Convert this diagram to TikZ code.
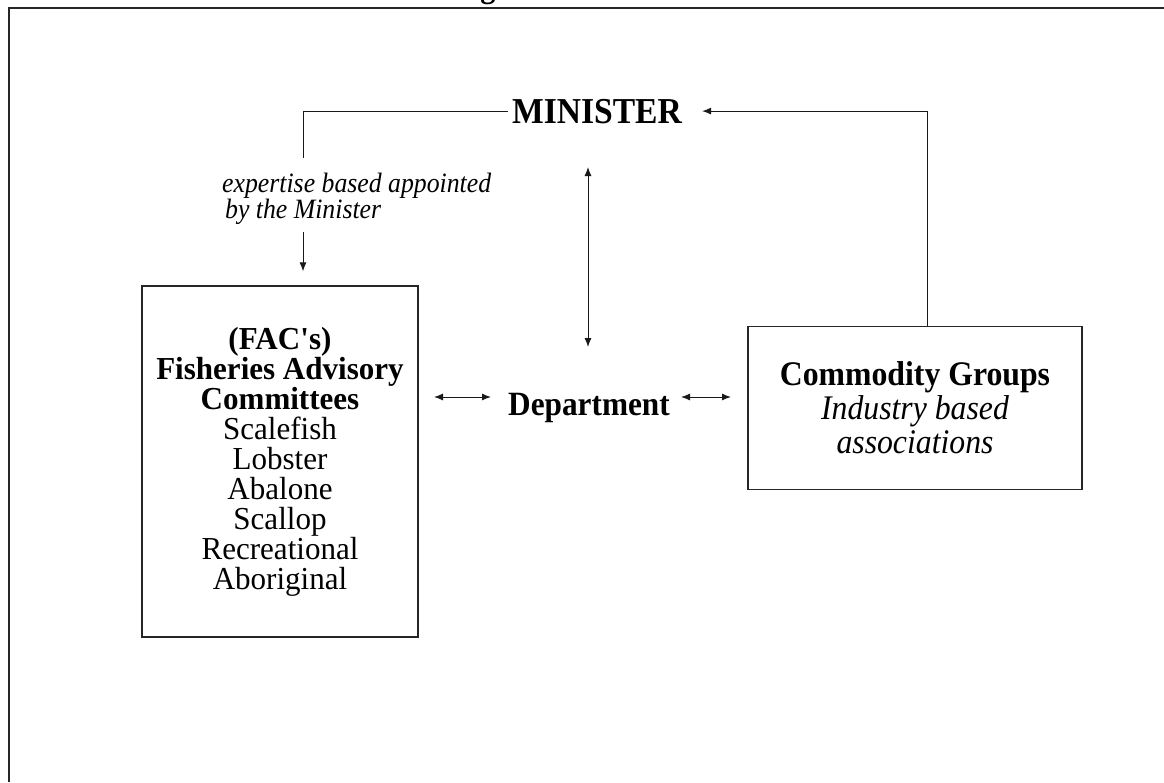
\documentclass[tikz,border=0pt]{standalone}
\usepackage{fontspec}
\setmainfont[FakeStretch=0.92]{Liberation Serif}
\newfontfamily\listfont[FakeStretch=0.97]{Liberation Serif}
\usetikzlibrary{arrows.meta}

\begin{document}
\begin{tikzpicture}[x=1pt,y=-1pt,
  frameline/.style={line width=2pt, draw=black!85},
  conn/.style={line width=1pt, draw=black!90},
  tipone/.style={conn, -{Latex[length=9pt,width=7pt]}},
  tiptwo/.style={conn, {Latex[length=9pt,width=7pt]}-{Latex[length=9pt,width=7pt]}},
  panel/.style={draw=black!85, line width=1.3pt, inner sep=0pt, align=center},
]
\clip (0,0) rectangle (1164,782);
\fill[white] (0,0) rectangle (1164,782);

% page frame and the heading running above it
\node[font=\bfseries\fontsize{33}{33}\selectfont, anchor=base, inner sep=0pt] (head) at (488,-3) {g};
\draw[frameline] (9,782) -- (9,8) -- (1164,8);

% nodes
\node[font=\bfseries\fontsize{36.5}{36}\selectfont, anchor=base, inner sep=4pt] (min) at (597,123) {MINISTER};

\node[font=\itshape\fontsize{28}{26}\selectfont, anchor=north west, inner sep=0pt, align=left] (exp) at (222,173)
  {expertise based appointed\\\hspace{3pt}by the Minister};

\node[panel, minimum width=276pt, minimum height=351pt, font=\listfont\fontsize{32}{30}\selectfont] (fac) at (280,461.5)
  {\bfseries (FAC\textquotesingle s)\\ \bfseries Fisheries Advisory\\ \bfseries Committees\\
   Scalefish\\ Lobster\\ Abalone\\ Scallop\\ Recreational\\ Aboriginal};

\node[font=\bfseries\fontsize{34}{34}\selectfont, anchor=base, inner sep=0pt] (dep) at (589,415) {Department};

\node[panel, minimum width=334pt, minimum height=163pt, font=\fontsize{34.5}{34}\selectfont] (com) at (915,408)
  {\bfseries Commodity Groups\\ \itshape Industry based\\ \itshape associations};

% connectors
\coordinate (k) at (303,158);
\draw[conn] (min.west) -| (k);
\coordinate (a1) at (303,232);
\draw[tipone, shorten >=14pt] (a1) -- (a1 |- fac.north);

\coordinate (v1) at (588,167);
\coordinate (v2) at (588,347);
\draw[tiptwo] (v1) -- (v2);

\coordinate (h1) at (434,397);
\coordinate (h2) at (491,397);
\draw[tiptwo] (h1) -- (h2);
\coordinate (h3) at (681,397);
\coordinate (h4) at (731,397);
\draw[tiptwo] (h3) -- (h4);

\draw[tipone, shorten >=16pt] ([xshift=12pt]com.north) |- (min.east);
\end{tikzpicture}
\end{document}
